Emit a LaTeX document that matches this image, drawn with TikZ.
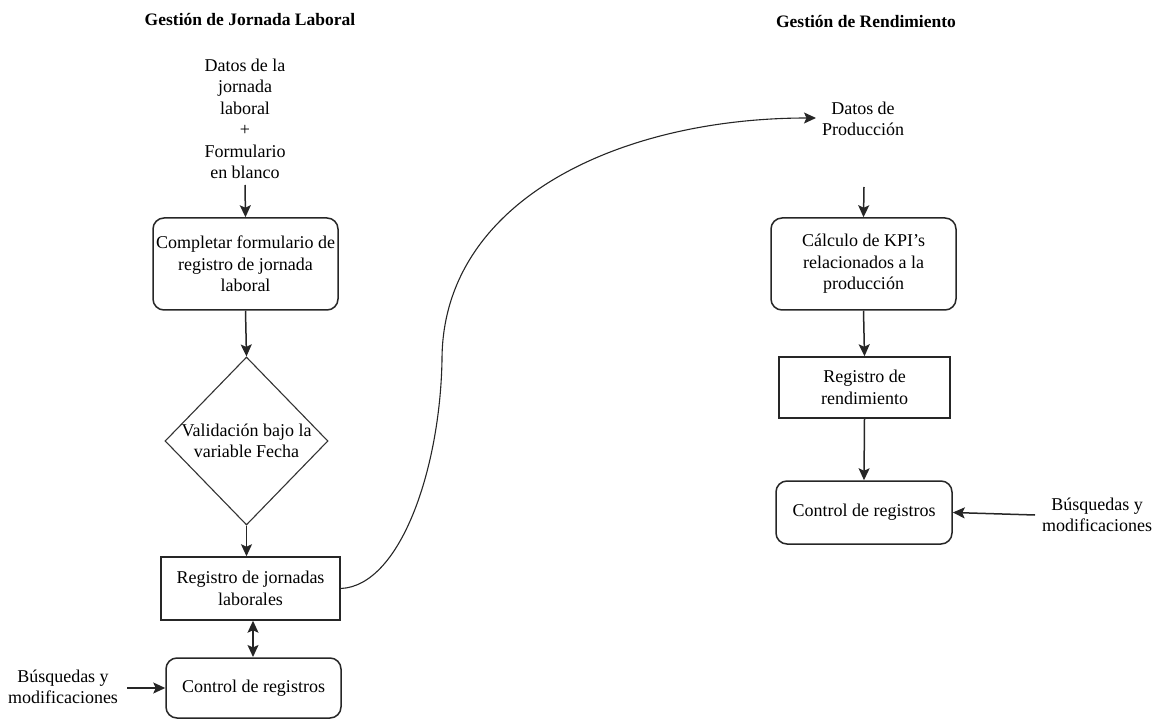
\documentclass[tikz,border=0pt]{standalone}
\usepackage{fontspec}
\setmainfont{Liberation Serif}
\usetikzlibrary{arrows.meta,shapes.geometric}
\begin{document}
\begin{tikzpicture}[x=1pt,y=-1pt,
  every node/.style={font=\fontsize{18}{21.5}\selectfont, align=center, inner sep=0pt},
  title/.style={font=\bfseries\fontsize{17.5}{20}\selectfont},
  rbox/.style={draw=black!85, line width=1.5pt, rounded corners=11pt},
  sbox/.style={draw=black!85, line width=1.5pt},
  dia/.style={draw=black!80, line width=1.1pt, diamond, shape aspect=0.97},
  tip/.style={},
  arr/.style={draw=black!85, line width=1.5pt, -{Stealth[length=12pt,width=11pt,inset=2.5pt]}},
  darr/.style={draw=black!85, line width=1.5pt, {Stealth[length=12pt,width=11pt,inset=2.5pt]}-{Stealth[length=12pt,width=11pt,inset=2.5pt]}}
]
\useasboundingbox (0,0) rectangle (1160,719);
% titles
\node[title] (t1) at (250,20) {Gestión de Jornada Laboral};
\node[title] (t2) at (866,22) {Gestión de Rendimiento};
% left column
\node (in1) at (245,119) {Datos de la\\jornada\\laboral\\+\\Formulario\\en blanco};
\coordinate (in1b) at (245,185);
\node[rbox, minimum width=185pt, minimum height=92pt] (b1) at (245.5,264) {Completar formulario de\\registro de jornada\\laboral};
\node[dia, minimum width=163pt, minimum height=168pt] (d1) at (246.5,441) {};
\node at (246.5,441) {Validación bajo la\\variable Fecha};
\node[sbox, minimum width=179pt, minimum height=63pt] (b3) at (250.5,588.5) {Registro de jornadas\\laborales};
\node[rbox, minimum width=175pt, minimum height=60pt] (b4) at (253.5,688) {Control de registros};
\node (bl) at (63,687) {Búsquedas y\\modificaciones};
% right column
\node (dp) at (863,119) {Datos de\\Producción};
\coordinate (dpb) at (864,187);
\node[rbox, minimum width=185pt, minimum height=92pt] (b5) at (863.5,264) {Cálculo de KPI's\\relacionados a la\\producción};
\node[sbox, minimum width=171pt, minimum height=61pt] (b6) at (864.5,387.5) {Registro de\\rendimiento};
\node[rbox, minimum width=176pt, minimum height=63pt] (b7) at (864,512.5) {Control de registros};
\node (br) at (1097,515) {Búsquedas y\\modificaciones};
% connectors
\draw[arr] (in1b) -- (b1.north);
\draw[arr] (b1.south) -- (d1.north);
\draw[arr] (d1.south) -- (d1.south |- b3.north);
\coordinate (b4n) at (253,657);
\draw[darr] (b3.south -| b4n) -- (b4n);
\coordinate (blarr) at (127,688);
\draw[arr] (blarr) -- (b4.west);
\coordinate (mid) at (442,360);
\draw[draw=black!85, line width=1.1pt] (b3.east) .. controls (400,586) and (440,470) .. (mid);
\coordinate (dpw) at (816,118);
\draw[arr, line width=1.1pt] (mid) .. controls (442,200) and (620,118) .. (dpw);
\draw[arr] (dpb) -- (b5.north);
\draw[arr] (b5.south) -- (b6.north);
\draw[arr] (b6.south) -- (b7.north);
\coordinate (brarr) at (1035,515);
\draw[arr] (brarr) -- (b7.east);
\end{tikzpicture}
\end{document}
